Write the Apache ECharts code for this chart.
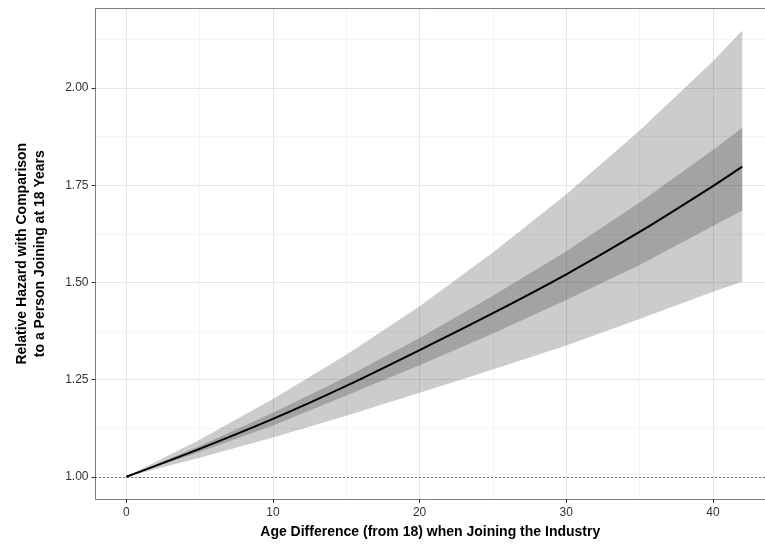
<!DOCTYPE html>
<html>
<head>
<meta charset="utf-8">
<script src="https://cdn.jsdelivr.net/npm/echarts@6/dist/echarts.min.js"></script>
<style>
html,body{margin:0;padding:0;background:#fff;}
#chart{width:765px;height:545px;}
</style>
</head>
<body>
<div id="chart"></div>
<script>
// Data
var ageDiff   = [0, 5, 10, 15, 20, 25, 30, 35, 40, 42];
var hazard    = [1.000, 1.072, 1.149, 1.234, 1.326, 1.421, 1.521, 1.630, 1.748, 1.798];
var innerHi   = [1.000, 1.079, 1.165, 1.257, 1.357, 1.466, 1.580, 1.706, 1.841, 1.898];
var innerLo   = [1.000, 1.064, 1.132, 1.209, 1.287, 1.369, 1.455, 1.545, 1.645, 1.685];
var outerHi   = [1.000, 1.095, 1.200, 1.314, 1.439, 1.577, 1.727, 1.891, 2.069, 2.148];
var outerLo   = [1.000, 1.049, 1.101, 1.157, 1.216, 1.276, 1.338, 1.406, 1.476, 1.502];
var xTicks    = [0, 10, 20, 30, 40];
var xMinor    = [5, 15, 25, 35];
var yTicks    = [1.00, 1.25, 1.50, 1.75, 2.00];
var yMinor    = [1.125, 1.375, 1.625, 1.875, 2.125];
var xTitle    = 'Age Difference (from 18) when Joining the Industry';
var yTitle    = 'Relative Hazard with Comparison\nto a Person Joining at 18 Years';

function pairs(xs, ys) { return xs.map(function (x, i) { return [x, ys[i]]; }); }
function bandRows(xs, lo, hi) { return xs.map(function (x, i) { return [x, lo[i], hi[i]]; }); }

var FONT = '"Liberation Sans", Arial, Helvetica, sans-serif';
var xMin = -2.1, xMax = 43.55, yMin = 0.9426, yMax = 2.2054;
var BORDER = '#7f7f7f';

var chart = echarts.init(document.getElementById('chart'), null, {renderer: 'canvas'});

function bandSeries(name, rows) {
  return {
    name: name, type: 'custom', silent: true, z: 2,
    data: rows,
    encode: {x: 0, y: [1, 2]},
    renderItem: function (params, api) {
      if (params.dataIndex !== 0) { return null; }
      var upper = [], lower = [];
      for (var i = 0; i < rows.length; i++) {
        upper.push(api.coord([rows[i][0], rows[i][2]]));
        lower.push(api.coord([rows[i][0], rows[i][1]]));
      }
      var pts = upper.concat(lower.reverse());
      return {
        type: 'polygon',
        shape: {points: pts},
        style: {fill: 'rgba(0,0,0,0.2)', stroke: null}
      };
    }
  };
}

var option = {
  animation: false,
  backgroundColor: '#ffffff',
  grid: {
    left: 95.5, top: 8.3, right: 0, bottom: 41.7,
    show: true, borderWidth: 0, backgroundColor: '#ffffff'
  },
  xAxis: [
    {
      type: 'value', min: xMin, max: xMax, position: 'bottom',
      name: xTitle, nameLocation: 'middle', nameGap: 20,
      nameTextStyle: {fontFamily: FONT, fontWeight: 'bold', fontSize: 14, color: '#000', lineHeight: 16, verticalAlign: 'top'},
      axisLine: {show: true, onZero: false, lineStyle: {color: BORDER, width: 1}},
      axisTick: {show: true, length: 4, customValues: xTicks, lineStyle: {color: '#333', width: 1}},
      axisLabel: {show: true, customValues: xTicks, margin: 8, fontFamily: FONT, fontSize: 12, color: '#333',
        formatter: function (v) { return String(v); }},
      splitLine: {show: true, lineStyle: {color: '#e6e6e6', width: 1}}
    },
    {
      type: 'value', min: xMin, max: xMax, position: 'top',
      axisLine: {show: true, onZero: false, lineStyle: {color: BORDER, width: 1}},
      axisTick: {show: false, customValues: xMinor},
      axisLabel: {show: false, customValues: xMinor},
      splitLine: {show: true, lineStyle: {color: '#f4f4f4', width: 1}}
    }
  ],
  yAxis: [
    {
      type: 'value', min: yMin, max: yMax, position: 'left',
      name: yTitle, nameLocation: 'middle', nameGap: 46, nameRotate: 90,
      nameTextStyle: {fontFamily: FONT, fontWeight: 'bold', fontSize: 14, color: '#000', lineHeight: 18, align: 'center'},
      axisLine: {show: true, onZero: false, lineStyle: {color: BORDER, width: 1}},
      axisTick: {show: true, length: 4, customValues: yTicks, lineStyle: {color: '#333', width: 1}},
      axisLabel: {show: true, customValues: yTicks, margin: 7, fontFamily: FONT, fontSize: 12, color: '#333',
        formatter: function (v) { return v.toFixed(2); }},
      splitLine: {show: true, lineStyle: {color: '#e6e6e6', width: 1}}
    },
    {
      type: 'value', min: yMin, max: yMax, position: 'left',
      axisLine: {show: false, onZero: false},
      axisTick: {show: false, customValues: yMinor},
      axisLabel: {show: false, customValues: yMinor},
      splitLine: {show: true, lineStyle: {color: '#f4f4f4', width: 1}}
    }
  ],
  series: [
    bandSeries('outerBand', bandRows(ageDiff, outerLo, outerHi)),
    bandSeries('innerBand', bandRows(ageDiff, innerLo, innerHi)),
    {
      name: 'Relative Hazard', type: 'line', data: pairs(ageDiff, hazard), symbol: 'none', smooth: 0.3,
      lineStyle: {color: '#000000', width: 2}, silent: true, z: 4,
      markLine: {
        silent: true, symbol: ['none', 'none'], label: {show: false},
        lineStyle: {color: '#000000', width: 1, type: [1, 3]},
        data: [{yAxis: 1}]
      }
    }
  ]
};
chart.setOption(option);
</script>
</body>
</html>
